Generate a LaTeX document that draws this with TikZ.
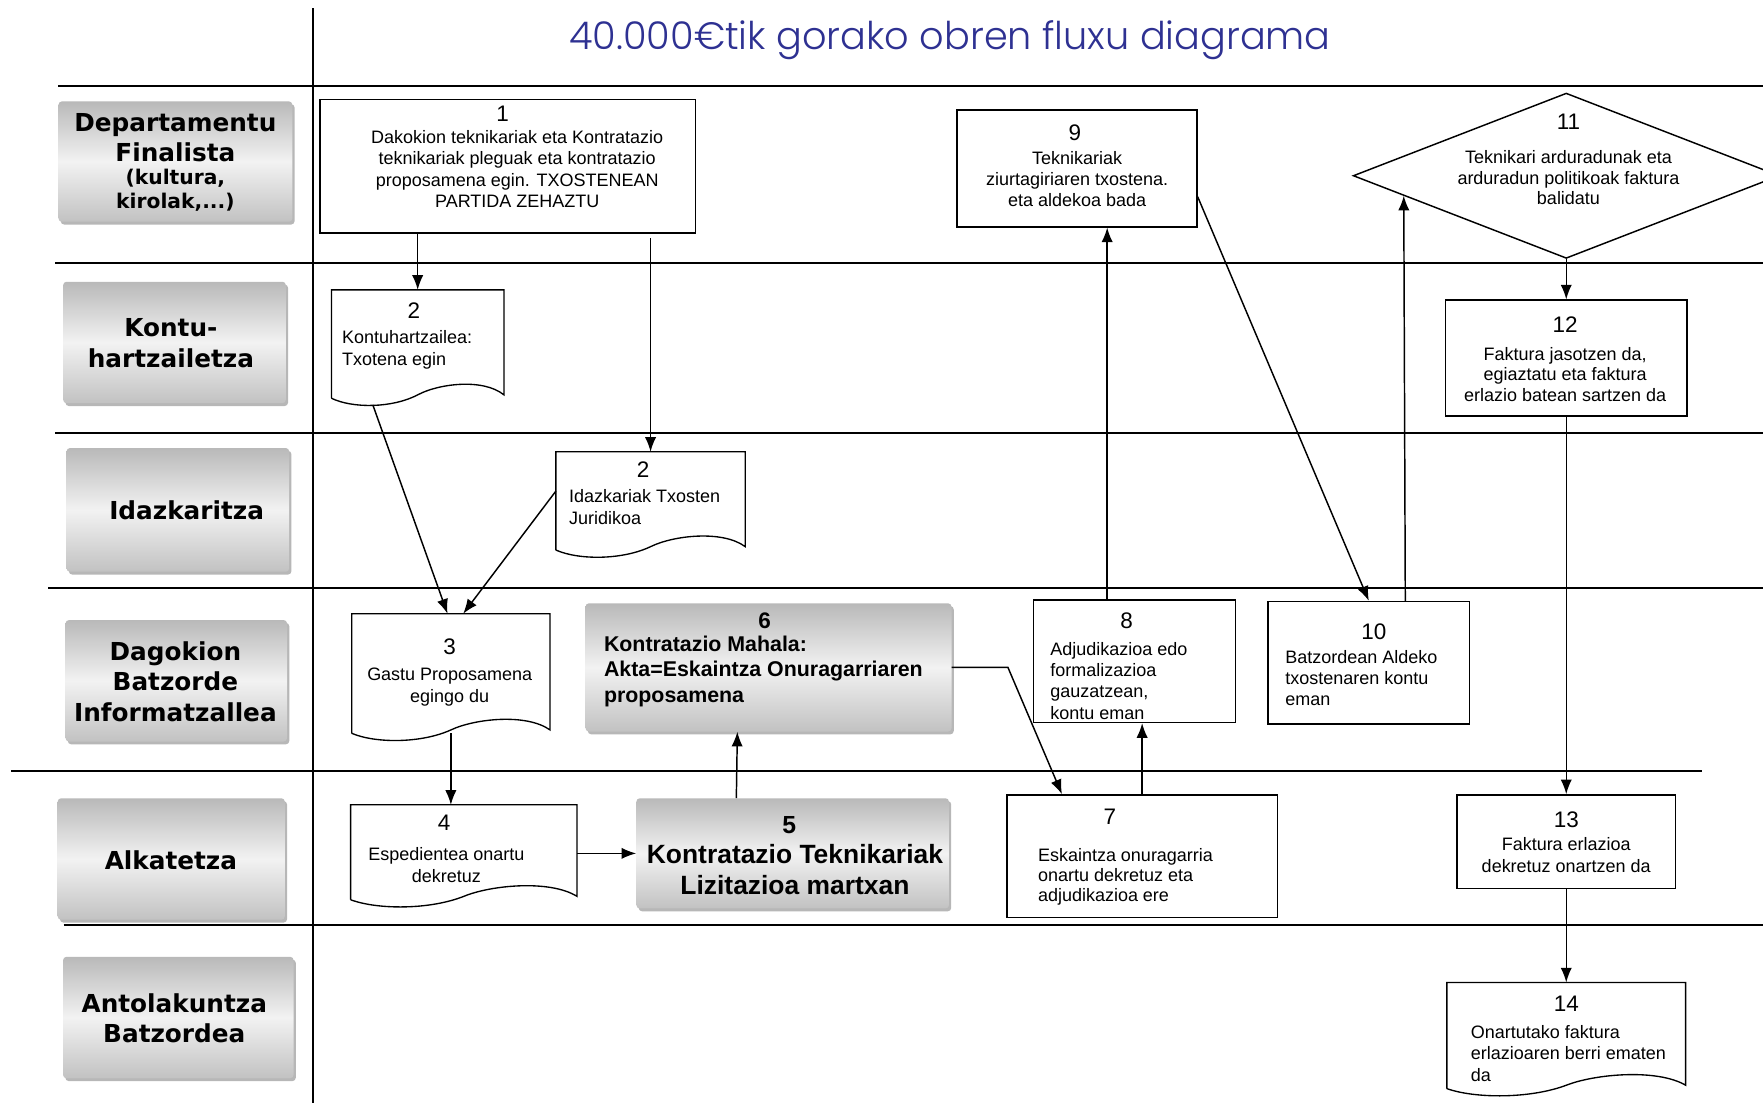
\documentclass[tikz,border=0pt]{standalone}
\usepackage{fontspec}
\setmainfont{Liberation Sans}
\newfontfamily\lanefont{DejaVu Sans}
\newfontfamily\titlefont{Poppins Light}
\usetikzlibrary{arrows.meta,calc,shadows,shapes.geometric}
\definecolor{titleblue}{RGB}{46,49,146}

% outline of a flowchart document (wavy bottom) round an empty node
\newcommand\docoutline[1]{%
  \draw[line width=1.2pt] (#1.south west) -- (#1.north west) -- (#1.north east)
    -- ($(#1.south east)+(0,-3)$)
    .. controls ($(#1.south west)!0.88!(#1.south east)+(0,-18)$) and ($(#1.south west)!0.62!(#1.south east)+(0,-13)$)
    .. ($(#1.south west)!0.5!(#1.south east)+(0,-3)$)
    .. controls ($(#1.south west)!0.35!(#1.south east)+(0,9)$) and ($(#1.south west)!0.12!(#1.south east)+(0,9)$)
    .. (#1.south west);}

\begin{document}
\begin{tikzpicture}[x=1pt,y=-1pt,
    lane/.style={line width=1.8pt},
    box/.style={draw,line width=1.3pt,fill=white,inner sep=0pt},
    doc/.style={inner sep=0pt},
    lanebox/.style={rounded corners=3pt,inner sep=0pt,top color=gray!55,bottom color=gray!48,middle color=gray!10,
      drop shadow={shadow xshift=2pt,shadow yshift=-2.5pt,fill=gray!80,opacity=0.7}},
    lanetext/.style={font=\lanefont\bfseries\fontsize{22}{27}\selectfont,align=center,inner sep=0pt},
    num/.style={font=\fontsize{20}{22}\selectfont,inner sep=0pt},
    body/.style={font=\fontsize{16}{19}\selectfont,inner sep=0pt},
    flow/.style={line width=1.3pt,-{Latex[length=13pt,width=10pt]}}]

  \fill[white] (0,0) rectangle (1568,981);
  \useasboundingbox (0,0) rectangle (1568,981);
  \clip (0,0) rectangle (1568,981);

  % --- title ---
  \node[font=\titlefont\fontsize{34}{40}\selectfont,text=titleblue] (title) at (845,35.5)
    {40.000€tik gorako obren fluxu diagrama};

  % --- the swim lanes ---
  \draw[lane] (52,76.5)  -- (1568,76.5);
  \draw[lane] (49,234)   -- (1568,234);
  \draw[lane] (49,385.4) -- (1568,385.4);
  \draw[lane] (43,523.2) -- (1568,523.2);
  \draw[lane] (10,685.4) -- (1514,685.4);
  \draw[lane] (56.5,823) -- (1568,823);
  \draw[lane] (278,7.4)  -- (278,981);

  % --- lane labels ---
  \node[lanebox,minimum width=208pt,minimum height=107pt] (dep)  at (156,143.7) {};
  \node[lanebox,minimum width=198pt,minimum height=108pt] (kont) at (155.2,304.6) {};
  \node[lanebox,minimum width=198pt,minimum height=110pt] (idaz) at (158.2,453.5) {};
  \node[lanebox,minimum width=197pt,minimum height=108pt] (batz) at (156.8,605.5) {};
  \node[lanebox,minimum width=202pt,minimum height=108pt] (alka) at (152.3,764) {};
  \node[lanebox,minimum width=205pt,minimum height=108pt] (anto) at (158.6,905) {};

  \node[lanetext] (dep-t)  at (156,122.7) {Departamentu\\Finalista};
  \node[lanetext,font=\lanefont\bfseries\fontsize{18}{21}\selectfont] (dep-s) at (156,169) {(kultura,\\kirolak,...)};
  \node[lanetext] (kont-t) at (152,305.3) {Kontu-\\hartzailetza};
  \node[lanetext] (idaz-t) at (166,453.6) {Idazkaritza};
  \node[lanetext] (batz-t) at (156,606.3) {Dagokion\\Batzorde\\Informatzallea};
  \node[lanetext] (alka-t) at (152,765)   {Alkatetza};
  \node[lanetext] (anto-t) at (155,905.6) {Antolakuntza\\Batzordea};

  % --- the steps ---
  \node[box,minimum width=334pt,minimum height=119pt]   (b1)  at (451.6,147.9) {};
  \node[doc,minimum width=153pt,minimum height=96pt]    (d2a) at (371.5,306) {};
  \node[doc,minimum width=168pt,minimum height=87pt]    (d2b) at (578.6,445.5) {};
  \node[doc,minimum width=176pt,minimum height=106pt]   (d3)  at (401,599) {};
  \node[doc,minimum width=201pt,minimum height=84pt]    (d4)  at (412.5,758) {};
  \node[lanebox,minimum width=278pt,minimum height=98pt]    (b5) at (705,759) {};
  \node[lanebox,minimum width=325.5pt,minimum height=114pt] (b6) at (683.5,593.6) {};
  \node[box,minimum width=240.5pt,minimum height=109pt] (b7)  at (1015.8,761.5) {};
  \node[box,minimum width=180pt,minimum height=109pt]   (b8)  at (1009,588) {};
  \node[box,minimum width=213.5pt,minimum height=104pt] (b9)  at (957.8,149.7) {};
  \node[box,minimum width=179pt,minimum height=109pt]   (b10) at (1217.4,589.5) {};
  \node[box,diamond,minimum width=379pt,minimum height=147pt] (d11) at (1393,156.3) {};
  \node[box,minimum width=215pt,minimum height=103pt]   (b12) at (1393,318.5) {};
  \node[box,minimum width=194.5pt,minimum height=83pt]  (b13) at (1393,748.5) {};
  \node[doc,minimum width=212pt,minimum height=94pt]    (d14) at (1393,921) {};

  \docoutline{d2a}
  \docoutline{d2b}
  \docoutline{d3}
  \docoutline{d4}
  \docoutline{d14}

  % --- lettering of the steps ---
  \node[num] (n1) at (447,101) {1};
  \node[body,align=center] (t1) at (460,150.5)
    {Dakokion teknikariak eta Kontratazio\\teknikariak pleguak eta kontratazio\\proposamena egin. TXOSTENEAN\\PARTIDA ZEHAZTU};
  \node[num] (n2a) at (368,276) {2};
  \node[body,align=left,anchor=west] (t2a) at (304,311) {Kontuhartzailea:\\Txotena egin};
  \node[num] (n2b) at (572,418) {2};
  \node[body,align=left,anchor=west] (t2b) at (506,451) {Idazkariak Txosten\\Juridikoa};
  \node[num] (n3) at (400,575) {3};
  \node[body,align=center] (t3) at (400,611) {Gastu Proposamena\\egingo du};
  \node[num] (n4) at (395,732) {4};
  \node[body,align=center] (t4) at (397,769.5) {Espedientea onartu\\dekretuz};
  \node[num,font=\bfseries\fontsize{22}{24}\selectfont] (n5) at (702,734) {5};
  \node[body,align=center,font=\bfseries\fontsize{23.5}{27}\selectfont] (t5) at (707,773.5)
    {Kontratazio Teknikariak\\Lizitazioa martxan};
  \node[num,font=\bfseries\fontsize{20}{22}\selectfont] (n6) at (680,552) {6};
  \node[body,align=left,anchor=west,font=\bfseries\fontsize{19}{22.5}\selectfont] (t6) at (537,597)
    {Kontratazio Mahala:\\Akta=Eskaintza Onuragarriaren\\proposamena};
  \node[num] (n7) at (987,726) {7};
  \node[body,align=left,anchor=west,font=\fontsize{16}{18}\selectfont] (t7) at (923,780)
    {Eskaintza onuragarria\\onartu dekretuz eta\\adjudikazioa ere};
  \node[num] (n8) at (1002,552) {8};
  \node[body,align=left,anchor=west] (t8) at (934,605.5) {Adjudikazioa edo\\formalizazioa\\gauzatzean,\\kontu eman};
  \node[num] (n9) at (956,118) {9};
  \node[body,align=center] (t9) at (958,159.3) {Teknikariak\\ziurtagiriaren txostena.\\eta aldekoa bada};
  \node[num] (n10) at (1222,562) {10};
  \node[body,align=left,anchor=west] (t10) at (1143,603) {Batzordean Aldeko\\txostenaren kontu\\eman};
  \node[num] (n11) at (1395,108) {11};
  \node[body,align=center,font=\fontsize{16}{18}\selectfont] (t11) at (1395,158)
    {Teknikari arduradunak eta\\arduradun politikoak faktura\\balidatu};
  \node[num] (n12) at (1392,289) {12};
  \node[body,align=center,font=\fontsize{16}{18}\selectfont] (t12) at (1392,333)
    {Faktura jasotzen da,\\egiaztatu eta faktura\\erlazio batean sartzen da};
  \node[num] (n13) at (1393,729) {13};
  \node[body,align=center] (t13) at (1393,760.5) {Faktura erlazioa\\dekretuz onartzen da};
  \node[num] (n14) at (1393,893) {14};
  \node[body,align=left,anchor=west] (t14) at (1308,937) {Onartutako faktura\\erlazioaren berri ematen\\da};

  % --- the flow ---
  \draw[flow] (b1.south -| d2a.north) -- (d2a.north);
  \draw[flow] ([yshift=-4pt]b1.south -| d2b.north) -- (d2b.north);
  \draw[flow] ($(d2a.south west)!0.24!(d2a.south east)+(0,6)$) -- ([xshift=-3pt]d3.north);
  \draw[flow] ($(d2b.north west)!0.4!(d2b.south west)$) -- ([xshift=11pt]d3.north);
  \draw[flow] (d3.south) -- (d3.south |- d4.north);
  \draw[flow] (d4.east |- b5.west) -- (b5.west);
  \draw[flow] ($(b5.north west)!0.32!(b5.north east)$) -- ($(b6.south west)!0.415!(b6.south east)$);
  \draw[flow] (b6.east) -- ([xshift=50pt]b6.east) -- ($(b7.north west)!0.205!(b7.north east)$);
  \draw[flow] (b7.north) -- (b7.north |- b8.south);
  \draw[flow] ($(b8.north west)!0.366!(b8.north east)$) coordinate (u8) -- (u8 |- b9.south);
  \draw[flow] ($(b9.north east)!0.74!(b9.south east)$) -- (b10.north);
  \draw[flow] ($(b10.north west)!0.68!(b10.north east)$) -- ($(d11.west)!0.24!(d11.south)$);
  \draw[flow] (d11.south) -- (b12.north);
  \draw[flow] (b12.south) -- (b13.north);
  \draw[flow] (b13.south) -- (d14.north);
\end{tikzpicture}
\end{document}
